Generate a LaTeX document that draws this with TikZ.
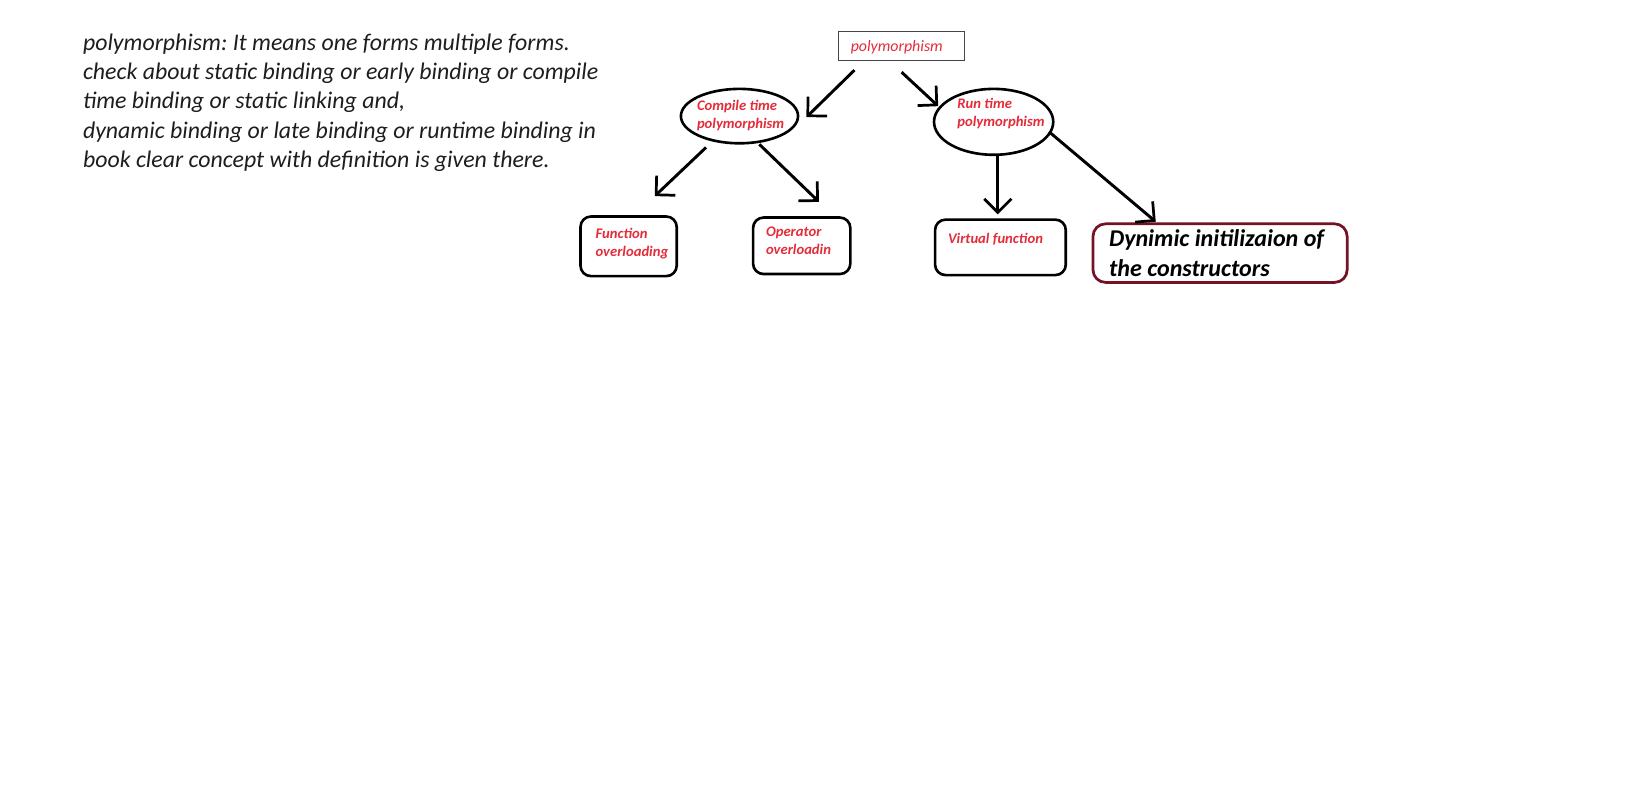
\documentclass[tikz,border=0pt]{standalone}
\usepackage{fontspec}
\setmainfont{Carlito}
\usetikzlibrary{shapes.geometric,arrows.meta,calc}
\definecolor{lblred}{RGB}{228,45,58}
\definecolor{darkred}{RGB}{118,18,38}
\definecolor{txtgray}{RGB}{30,30,30}
\frenchspacing
\begin{document}
\begin{tikzpicture}[x=0.5pt,y=-0.5pt,
  ell/.style={draw=black,line width=1.25pt,ellipse,inner sep=0pt},
  rbox/.style={draw=black,line width=1.25pt,rounded corners=5pt,inner sep=0pt},
  lbl/.style={text=lblred,font=\fontsize{7pt}{8.5pt}\selectfont\bfseries\itshape,align=left,inner sep=0pt,anchor=base west},
  arr/.style={line width=1.4pt,-{Straight Barb[length=6.5pt,width=13pt,line width=1.3pt]}}]
\useasboundingbox (0,0) rectangle (1568,765);
\fill[white] (0,0) rectangle (1568,765);
% paragraph
\node[anchor=base west,align=left,inner sep=0pt,text=txtgray,
  font=\fontsize{11.4pt}{14pt}\selectfont\itshape] (para) at (79,160)
  {polymorphism: It means one forms multiple forms.\\
   check about static binding or early binding or compile\\
   time binding or static linking and,\\
   dynamic binding or late binding or runtime binding in\\
   book clear concept with definition is given there.};
% root
\node[draw={rgb,255:red,70;green,70;blue,70},line width=0.5pt,minimum width=60pt,minimum height=14pt,inner sep=0pt] (root) at (862,44) {};
\node[anchor=base west,inner sep=0pt,text=lblred,font=\fontsize{7.6pt}{9pt}\selectfont\itshape] (roott) at (813,49) {polymorphism};
% ellipses
\node[ell,minimum width=56pt,minimum height=26pt] (ct) at (707,111) {};
\node[lbl] (ctt) at (666,123) {Compile time\\polymorphism};
\node[ell,minimum width=57pt,minimum height=31.5pt] (rt) at (950,116.5) {};
\node[lbl] (rtt) at (915,121) {Run time\\polymorphism};
% boxes
\node[rbox,minimum width=46pt,minimum height=28.5pt] (fo) at (601,235.5) {};
\node[lbl] (fot) at (569,245) {Function\\overloading};
\node[rbox,minimum width=46.5pt,minimum height=27pt] (oo) at (766.5,235) {};
\node[lbl] (oot) at (732,243) {Operator\\overloadin};
\node[rbox,minimum width=62.5pt,minimum height=26.5pt] (vf) at (956.5,236.5) {};
\node[lbl] (vft) at (906,233) {Virtual function};
\node[draw=darkred,line width=1.3pt,rounded corners=6pt,minimum width=121.5pt,minimum height=28pt,inner sep=0pt] (dy) at (1166.5,242) {};
\node[anchor=base west,align=left,inner sep=0pt,text=black,font=\fontsize{11.5pt}{14pt}\selectfont\bfseries\itshape] (dyt) at (1060,264) {Dynimic initilizaion of\\the constructors};
% arrows
\draw[arr] ($(root.center)+(-45,23)$) -- ($(ct.center)+(64,1)$);
\draw[arr] ($(root.center)+(0,25)$) -- ($(rt.center)+(-53,-15)$);
\draw[arr] ($(ct.center)+(-32,30)$) -- ($(fo.center)+(25,-48)$);
\draw[arr] ($(ct.center)+(19,27)$) -- ($(oo.center)+(16.5,-42)$);
\draw[arr] ($(rt.center)+(4,31.5)$) -- ($(vf.center)+(-2.5,-31.5)$);
\draw[arr] ($(rt.center)+(53,9.5)$) -- ($(dy.center)+(-61.5,-30)$);
\end{tikzpicture}
\end{document}
